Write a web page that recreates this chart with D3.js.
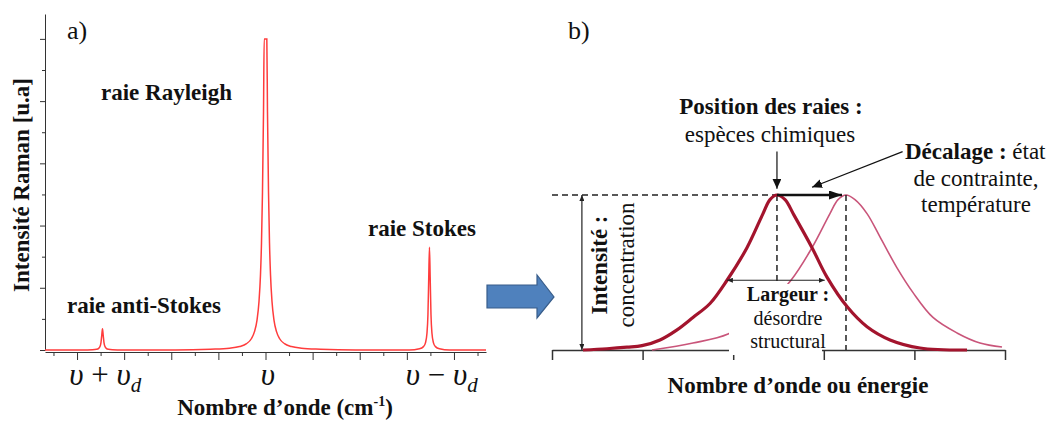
<!DOCTYPE html>
<html>
<head>
<meta charset="utf-8">
<script src="https://cdn.jsdelivr.net/npm/d3@7"></script>
<style>
body { margin: 0; background: #fff; }
text { font-family: "Liberation Serif", "Times New Roman", serif; fill: #111; }
</style>
</head>
<body>
<svg id="chart" width="1054" height="421"></svg>
<script>
// ---- panel a : Raman spectrum (x in wavenumber units, Rayleigh line at 0) ----
const lineCentres = [-3.46, 0, 3.48];
const lineLabels = ["raie anti-Stokes", "raie Rayleigh", "raie Stokes"];
const narrowOffsets = [0, 0.015, 0.032, 0.053, 0.085, 0.127, 0.212, 0.425];
const antiStokesVals = [0.068, 0.048, 0.024, 0.011, 0.0047, 0.0022, 0.0008, 0];
const stokesVals = [0.33, 0.235, 0.115, 0.054, 0.023, 0.0108, 0.004, 0];
const rayleighOffsets = [0, 0.028, 0.042, 0.064, 0.085, 0.106, 0.138, 0.18, 0.234, 0.297, 0.403, 0.552, 0.764, 1.168, 1.91];
const rayleighVals = [1, 1, 0.767, 0.507, 0.344, 0.243, 0.156, 0.096, 0.059, 0.037, 0.0204, 0.011, 0.0058, 0.0025, 0];
const yTicksA = d3.range(11).map(i => i / 10);
const xTicksA = d3.range(-9, 10).map(i => i / 2);
const tickLabelPos = [-3.40, 0.05, 3.74];
const tickLabelOps = ["+", "", "\u2212"];

// ---- panel b : schematic band and its shifted copy (x in axis units 0..5) ----
const bandX = [0.342, 0.607, 0.828, 0.993, 1.192, 1.380, 1.556, 1.744, 1.932, 2.152, 2.329, 2.406, 2.483,
               2.572, 2.671, 2.870, 3.035, 3.256, 3.477, 3.731, 4.062, 4.581];
const bandY = [0, 0.008, 0.018, 0.028, 0.065, 0.13, 0.21, 0.30, 0.45, 0.66, 0.88, 0.97, 1,
               0.97, 0.87, 0.66, 0.47, 0.28, 0.15, 0.065, 0.013, 0];
const shiftedX = [1.104, 1.556, 1.943, 2.296, 2.638, 2.870, 3.068, 3.157, 3.245, 3.344, 3.477, 3.620,
                  3.808, 3.985, 4.205, 4.470, 4.724, 4.967];
const shiftedY = [0, 0.045, 0.103, 0.24, 0.45, 0.66, 0.88, 0.97, 1, 0.97, 0.88, 0.73,
                  0.53, 0.37, 0.21, 0.11, 0.045, 0.019];
const xTicksB = [0, 1, 2, 3, 4, 5];
const peakPos = [2.483, 3.245];
const widthSpan = [1.93, 3.01];   // at height widthLevel
const widthLevel = 0.45;

const svg = d3.select("#chart");
const axisColor = "#333";

const defs = svg.append("defs");
function addMarker(id, w, h, color) {
    defs.append("marker").attr("id", id)
        .attr("viewBox", "0 0 10 10").attr("refX", 10).attr("refY", 5)
        .attr("markerUnits", "userSpaceOnUse")
        .attr("markerWidth", w).attr("markerHeight", h)
        .attr("preserveAspectRatio", "none")
        .attr("orient", "auto-start-reverse")
        .append("path").attr("d", "M0,0L10,5L0,10Z").attr("fill", color);
}
addMarker("headSmall", 6, 5, "#222");
addMarker("headMid", 10, 9, "#111");
addMarker("headBig", 13, 9, "#111");

// ================= panel a =================
const xA = d3.scaleLinear().domain([-4.68, 4.68]).range([45, 486]);
const yA = d3.scaleLinear().domain([0, 1.08]).range([350, 14]);

svg.append("g")
    .attr("transform", "translate(0,352)")
    .call(d3.axisBottom(xA).tickValues(xTicksA).tickSize(8).tickSizeOuter(0).tickFormat(""))
    .call(g => g.selectAll(".tick line").filter(d => Math.abs(d % 1) > 0.1).attr("y2", 4))
    .call(g => g.selectAll("line, path").attr("stroke", axisColor));

svg.append("g")
    .attr("transform", "translate(45,0)")
    .call(d3.axisLeft(yA).tickValues(yTicksA).tickSize(5).tickSizeOuter(0).tickFormat(""))
    .call(g => g.selectAll(".tick line").filter((d, i) => i % 2 === 1).attr("x2", -3))
    .call(g => g.selectAll("line, path").attr("stroke", axisColor));

// assemble the spectrum from the three line profiles
function mirror(centre, offsets, vals) {
    const pts = [];
    offsets.forEach((o, i) => {
        pts.push([centre - o, vals[i]]);
        if (o > 0) pts.push([centre + o, vals[i]]);
    });
    return pts;
}
const spectrum = [[-4.68, 0], [4.68, 0]]
    .concat(mirror(lineCentres[0], narrowOffsets, antiStokesVals))
    .concat(mirror(lineCentres[1], rayleighOffsets, rayleighVals))
    .concat(mirror(lineCentres[2], narrowOffsets, stokesVals))
    .sort((a, b) => a[0] - b[0]);

svg.append("path")
    .datum(spectrum)
    .attr("fill", "none")
    .attr("stroke", "#ff3c3c")
    .attr("stroke-width", 1.5)
    .attr("d", d3.line().x(d => xA(d[0])).y(d => yA(d[1])).curve(d3.curveMonotoneX));

// line labels
const labelPosA = [[67, 313], [101, 100], [368, 236]];
svg.selectAll("text.lineLabel")
    .data(lineLabels)
    .join("text")
    .attr("class", "lineLabel")
    .attr("x", (d, i) => labelPosA[i][0])
    .attr("y", (d, i) => labelPosA[i][1])
    .attr("font-size", 23)
    .attr("font-weight", "bold")
    .text(d => d);

// tick labels  v + vd , v , v - vd
tickLabelPos.forEach((p, i) => {
    const t = svg.append("text")
        .attr("x", xA(p)).attr("y", 385)
        .attr("text-anchor", "middle")
        .attr("font-size", 31);
    t.append("tspan").attr("font-style", "italic").text("\u03c5");
    if (tickLabelOps[i]) {
        t.append("tspan").text(" " + tickLabelOps[i] + " ");
        t.append("tspan").attr("font-style", "italic").text("\u03c5");
        t.append("tspan").attr("font-style", "italic").attr("font-size", 21).attr("dy", 7).text("d");
    }
});

svg.append("text")
    .attr("x", 285).attr("y", 415)
    .attr("text-anchor", "middle")
    .attr("font-size", 23).attr("font-weight", "bold")
    .call(t => {
        t.append("tspan").text("Nombre d\u2019onde  (cm");
        t.append("tspan").attr("font-size", 14).attr("dy", -9).text("-1");
        t.append("tspan").attr("dy", 9).text(")");
    });

svg.append("text")
    .attr("transform", "translate(29,185) rotate(-90)")
    .attr("text-anchor", "middle")
    .attr("font-size", 23).attr("font-weight", "bold")
    .text("Intensit\u00e9 Raman [u.a]");

svg.append("text")
    .attr("x", 67).attr("y", 39)
    .attr("font-family", "'Liberation Sans', Arial, sans-serif")
    .attr("font-size", 26)
    .text("a)");

// ================= block arrow between the panels =================
svg.append("polygon")
    .attr("points", [[487, 285], [537, 285], [537, 275], [554, 297], [537, 318], [537, 308], [487, 308]].join(" "))
    .attr("fill", "#4f81bd")
    .attr("stroke", "#385d8a")
    .attr("stroke-width", 1.2);

// ================= panel b =================
const xB = d3.scaleLinear().domain([0, 5]).range([552, 1005]);
const yB = d3.scaleLinear().domain([0, 1]).range([350, 195]);

svg.append("g")
    .attr("transform", "translate(0,350)")
    .call(d3.axisBottom(xB).tickValues(xTicksB).tickSize(10).tickSizeOuter(0).tickFormat(""))
    .call(g => g.selectAll("line, path").attr("stroke", axisColor).attr("stroke-width", 1.5));

const lineB = d3.line().x(d => xB(d[0])).y(d => yB(d[1])).curve(d3.curveCatmullRom.alpha(0.5));

svg.append("path")
    .datum(d3.zip(shiftedX, shiftedY))
    .attr("fill", "none")
    .attr("stroke", "#c9557a")
    .attr("stroke-width", 1.6)
    .attr("d", lineB);

// dashed guides
const dash = "6,4";
svg.append("line")
    .attr("x1", xB(0)).attr("x2", xB(peakPos[0]))
    .attr("y1", yB(1)).attr("y2", yB(1))
    .attr("stroke", "#222").attr("stroke-width", 1.5).attr("stroke-dasharray", dash);
svg.selectAll("line.guide")
    .data(peakPos)
    .join("line")
    .attr("class", "guide")
    .attr("x1", d => xB(d)).attr("x2", d => xB(d))
    .attr("y1", yB(1)).attr("y2", yB(0))
    .attr("stroke", "#222").attr("stroke-width", 1.5).attr("stroke-dasharray", dash);

// white box behind the "Largeur" note
svg.append("rect")
    .attr("x", 729).attr("y", 284)
    .attr("width", 93).attr("height", 71)
    .attr("fill", "#fff");

svg.append("path")
    .datum(d3.zip(bandX, bandY))
    .attr("fill", "none")
    .attr("stroke", "#a3142d")
    .attr("stroke-width", 3.2)
    .attr("d", lineB);

// intensity arrow
svg.append("line")
    .attr("x1", xB(0.33)).attr("x2", xB(0.33))
    .attr("y1", yB(0)).attr("y2", yB(1))
    .attr("stroke", "#222").attr("stroke-width", 1.2)
    .attr("marker-start", "url(#headSmall)").attr("marker-end", "url(#headSmall)");

// width arrow
svg.append("line")
    .attr("x1", xB(widthSpan[0])).attr("x2", xB(widthSpan[1]))
    .attr("y1", yB(widthLevel)).attr("y2", yB(widthLevel))
    .attr("stroke", "#222").attr("stroke-width", 1.2)
    .attr("marker-start", "url(#headSmall)").attr("marker-end", "url(#headSmall)");

// shift arrow between the two peaks
svg.append("line")
    .attr("x1", xB(peakPos[0])).attr("x2", xB(peakPos[1]) - 4)
    .attr("y1", yB(1)).attr("y2", yB(1))
    .attr("stroke", "#111").attr("stroke-width", 2.4)
    .attr("marker-end", "url(#headBig)");

// pointer arrows
svg.append("line")
    .attr("x1", xB(peakPos[0])).attr("x2", xB(peakPos[0]))
    .attr("y1", yB(1.28)).attr("y2", yB(1.04))
    .attr("stroke", "#111").attr("stroke-width", 1.2)
    .attr("marker-end", "url(#headMid)");
svg.append("line")
    .attr("x1", xB(3.87)).attr("x2", xB(2.87))
    .attr("y1", yB(1.28)).attr("y2", yB(1.05))
    .attr("stroke", "#111").attr("stroke-width", 1.2)
    .attr("marker-end", "url(#headMid)");

// annotations
function note(x, y, parts, size, anchor) {
    const t = svg.append("text")
        .attr("x", x).attr("y", y)
        .attr("font-size", size)
        .attr("text-anchor", anchor || "middle");
    parts.forEach(p => t.append("tspan").attr("font-weight", p[1] ? "bold" : "normal").text(p[0]));
    return t;
}
note(771, 114, [["Position des raies :", true]], 23);
note(770, 142, [["esp\u00e8ces chimiques", false]], 23);
note(905, 159, [["D\u00e9calage :", true], [" \u00e9tat", false]], 23, "start");
note(976, 186, [["de contrainte,", false]], 23);
note(976, 212, [["temp\u00e9rature", false]], 23);
note(788, 301, [["Largeur :", true]], 20);
note(788, 325, [["d\u00e9sordre", false]], 20);
note(788, 348, [["structural", false]], 20);
note(798, 393, [["Nombre d\u2019onde  ou \u00e9nergie", true]], 23);

svg.append("text")
    .attr("transform", "translate(607,265) rotate(-90)")
    .attr("text-anchor", "middle")
    .attr("font-size", 23).attr("font-weight", "bold")
    .text("Intensit\u00e9 :");
svg.append("text")
    .attr("transform", "translate(634,265) rotate(-90)")
    .attr("text-anchor", "middle")
    .attr("font-size", 23)
    .text("concentration");

svg.append("text")
    .attr("x", 568).attr("y", 39)
    .attr("font-family", "'Liberation Sans', Arial, sans-serif")
    .attr("font-size", 26)
    .text("b)");
</script>
</body>
</html>
